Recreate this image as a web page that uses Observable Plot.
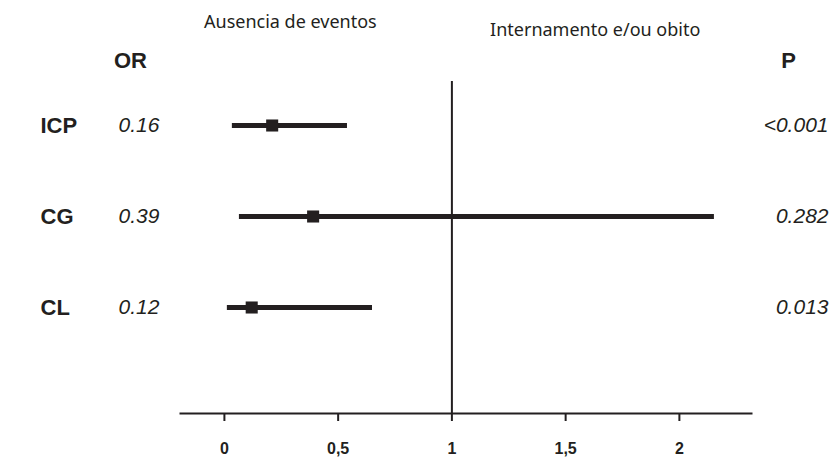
<!DOCTYPE html>
<html>
<head>
<meta charset="utf-8">
<script src="https://cdn.jsdelivr.net/npm/d3@7"></script>
<script src="https://cdn.jsdelivr.net/npm/@observablehq/plot@0.6"></script>
<style>
  html, body { margin: 0; padding: 0; background: #fff; }
  #chart svg { display: block; }
</style>
</head>
<body>
<div id="chart"></div>
<script>
// Data
const rows = ["ICP", "CG", "CL"];
const orEstimate = [0.21, 0.39, 0.12];   // position of square
const ciLow = [0.035, 0.066, 0.013];
const ciHigh = [0.541, 2.154, 0.651];
const orLabels = ["0.16", "0.39", "0.12"];
const pLabels = ["<0.001", "0.282", "0.013"];
const xTicks = [0, 0.5, 1, 1.5, 2];
const leftHeader = "Ausencia de eventos";
const rightHeader = "Internamento e/ou obito";

const data = rows.map((r, i) => ({
  row: r, est: orEstimate[i], lo: ciLow[i], hi: ciHigh[i],
  orText: orLabels[i], pText: pLabels[i]
}));

const ink = "#231f20";

const chart = Plot.plot({
  width: 833,
  height: 461,
  marginLeft: 180,
  marginRight: 82,
  marginTop: 81,
  marginBottom: 48,
  style: { fontFamily: "Liberation Sans, Arial, sans-serif", background: "#fff", color: ink },
  x: { domain: [-0.193, 2.317], label: null },
  y: { type: "point", domain: rows, range: [125, 307], padding: 0, axis: null },
  marks: [
    Plot.frame({ anchor: "bottom", stroke: ink, strokeWidth: 2 }),
    Plot.ruleX([1], { stroke: ink, strokeWidth: 2 }),
    Plot.axisX({
      ticks: xTicks, tickSize: 8, tickPadding: 21, strokeWidth: 2, stroke: ink,
      tickFormat: d => String(d).replace(".", ","),
      fontSize: 16, fontWeight: "bold", fill: ink
    }),
    Plot.ruleY(data, { y: "row", x1: "lo", x2: "hi", stroke: ink, strokeWidth: 5 }),
    Plot.dot(data, { y: "row", x: "est", symbol: "square", r: 6.8, fill: ink, stroke: "none" }),
    // row labels
    Plot.text(data, { y: "row", text: "row", frameAnchor: "left", dx: -140, textAnchor: "start",
      lineAnchor: "middle", fontSize: 22, fontWeight: "bold", fill: ink }),
    Plot.text(data, { y: "row", text: "orText", frameAnchor: "left", dx: -62, textAnchor: "start",
      lineAnchor: "middle", fontSize: 21, fontStyle: "italic", fill: ink }),
    Plot.text(data, { y: "row", text: "pText", frameAnchor: "right", dx: 77, textAnchor: "end",
      lineAnchor: "middle", fontSize: 21, fontStyle: "italic", fill: ink }),
    // column headers
    Plot.text(["OR"], { text: d => d, frameAnchor: "top-left", dx: -50, dy: -21,
      textAnchor: "middle", lineAnchor: "middle", fontSize: 22, fontWeight: "bold", fill: ink }),
    Plot.text(["P"], { text: d => d, frameAnchor: "top-right", dx: 37, dy: -21,
      textAnchor: "middle", lineAnchor: "middle", fontSize: 22, fontWeight: "bold", fill: ink }),
    Plot.text([leftHeader], { text: d => d, x: 0.29, frameAnchor: "top", dy: -59,
      lineAnchor: "middle", fontSize: 18, fill: ink, fontFamily: "Noto Sans, sans-serif" }),
    Plot.text([rightHeader], { text: d => d, x: 1.63, frameAnchor: "top", dy: -51,
      lineAnchor: "middle", fontSize: 18, fill: ink, fontFamily: "Noto Sans, sans-serif" })
  ]
});

document.getElementById("chart").appendChild(chart);
</script>
</body>
</html>
